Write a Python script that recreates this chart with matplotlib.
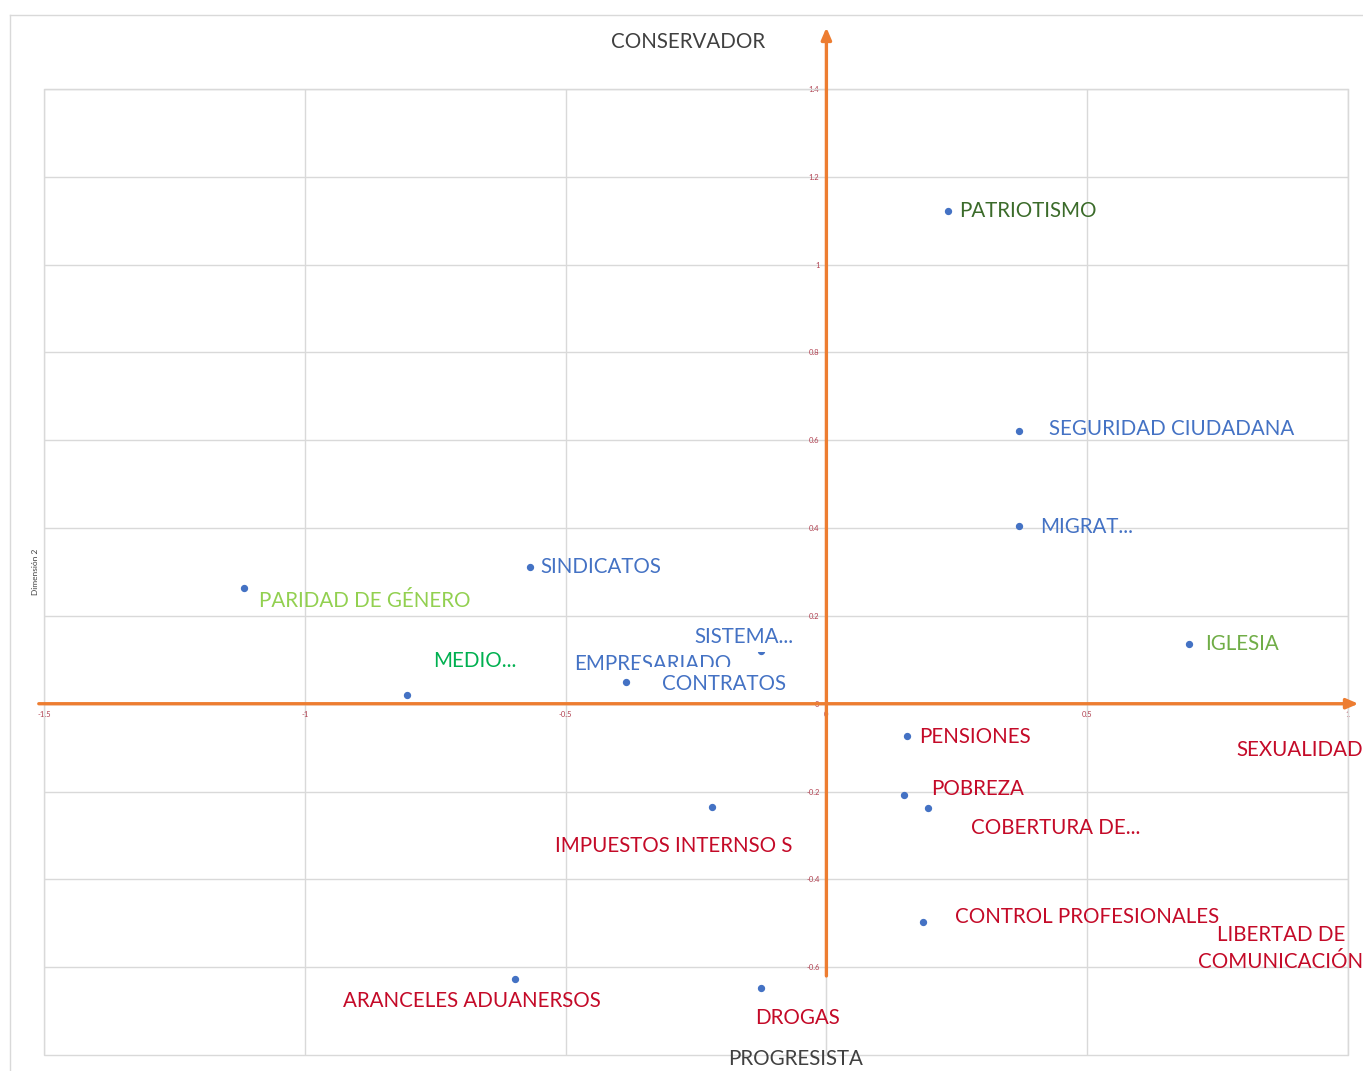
import numpy as np
import matplotlib.pyplot as plt
from matplotlib.lines import Line2D
from matplotlib.patches import Rectangle

plt.rcParams['font.family'] = ['Lato', 'DejaVu Sans']

# points of the map (nan = no visible dot)
names = ['PATRIOTISMO', 'SEGURIDAD CIUDADANA', 'MIGRAT...', 'IGLESIA', 'SINDICATOS',
         'PARIDAD DE GÉNERO', 'MEDIO...', 'SISTEMA...', 'EMPRESARIADO', 'CONTRATOS',
         'PENSIONES', 'SEXUALIDAD', 'POBREZA', 'COBERTURA DE...', 'IMPUESTOS INTERNSO S',
         'CONTROL PROFESIONALES', 'LIBERTAD DE\nCOMUNICACIÓN', 'ARANCELES ADUANERSOS', 'DROGAS']
dim1 = [0.234, 0.369, 0.369, 0.695, -0.568,
        -1.117, -0.804, -0.125, -0.384, np.nan,
        0.155, np.nan, 0.148, 0.194, -0.219,
        0.186, np.nan, -0.597, -0.125]
dim2 = [1.123, 0.621, 0.404, 0.137, 0.311,
        0.263, 0.021, 0.119, 0.050, np.nan,
        -0.073, np.nan, -0.208, -0.237, -0.235,
        -0.498, np.nan, -0.628, -0.648]

xticks = [-1.5, -1, -0.5, 0, 0.5, 1]
xticklabels = ['-1.5', '-1', '-0.5', '0', '0.5', '1']
yticks = [-0.6, -0.4, -0.2, 0, 0.2, 0.4, 0.6, 0.8, 1, 1.2, 1.4]
yticklabels = ['-0.6', '-0.4', '-0.2', '0', '0.2', '0.4', '0.6', '0.8', '1', '1.2', '1.4']

# label layout
red = '#c40a28'
blue = '#4472c4'
colors = ['#3b6b2a', blue, blue, '#70ad47', blue,
          '#92d050', '#00b050', blue, blue, blue,
          red, red, red, red, red,
          red, red, red, red]
label_pos = [(0.255, 1.123), (0.426, 0.626), (0.409, 0.402), (0.726, 0.137), (-0.549, 0.311),
             (-1.088, 0.235), (-0.754, 0.098), (-0.253, 0.153), (-0.484, 0.090), (-0.315, 0.046),
             (0.177, -0.075), (1.029, -0.105), (0.200, -0.194), (0.278, -0.283), (-0.520, -0.324),
             (0.246, -0.486), (0.871, -0.557), (-0.927, -0.678), (-0.136, -0.715)]
label_ha = ['left'] * 19
label_ha[11] = 'right'
label_ha[16] = 'center'

W, H = 1363, 1071
fig = plt.figure(figsize=(W / 100, H / 100), dpi=100)
ax = fig.add_axes([44 / W, 1 - 1055 / H, (1348 - 44) / W, (1055 - 89) / H])

ax.set_xlim(-1.5, 1)
ax.set_ylim(-0.8, 1.4)
ax.set_xticks(xticks)
ax.set_xticklabels(xticklabels)
ax.set_yticks(yticks)
ax.set_yticklabels(yticklabels)
ax.grid(True, color='#d9d9d9', lw=1)
ax.set_axisbelow(True)
ax.tick_params(length=0, labelsize=5.5, labelcolor='#b04050', pad=5)

ax.spines['left'].set_position(('data', 0))
ax.spines['bottom'].set_position(('data', 0))
for s in ax.spines.values():
    s.set_color('#d9d9d9')
ax.add_patch(Rectangle((0, 0), 1, 1, transform=ax.transAxes, fill=False,
                       ec='#d9d9d9', lw=1, clip_on=False))

# orange arrows
arrow = dict(arrowstyle='-|>,head_length=0.7,head_width=0.3', color='#ed7d31', lw=2.4,
             shrinkA=0, shrinkB=0)
ax.annotate('', xy=(0, 1.54), xytext=(0, -0.62), arrowprops=arrow, annotation_clip=False)
ax.annotate('', xy=(1.02, 0), xytext=(-1.51, 0), arrowprops=arrow, annotation_clip=False)

ax.scatter(dim1, dim2, s=18, color=blue, zorder=5)

# white label box of CONTRATOS hides the lower part of EMPRESARIADO
ax.add_patch(Rectangle((-0.36, 0.012), 0.27, 0.072, fc='white', ec='none', zorder=4.5))

for name, (lx, ly), c, ha in zip(names, label_pos, colors, label_ha):
    bbox = None
    z = 4
    if name == 'SISTEMA...':
        bbox = dict(fc='white', ec='none', pad=4)
        z = 6
    if name == 'CONTRATOS':
        z = 6
    ax.text(lx, ly, name, color=c, fontsize=14.8, ha=ha, va='center', zorder=z,
            bbox=bbox, clip_on=False, linespacing=1.45)

ax.text(-0.265, 1.506, 'CONSERVADOR', color='#404040', fontsize=14.8, ha='center', va='center',
        clip_on=False)
ax.text(-0.060, -0.808, 'PROGRESISTA', color='#404040', fontsize=14.8, ha='center', va='center',
        clip_on=False)
fig.text(36 / W, 1 - 572 / H, 'Dimensión 2', rotation=90, fontsize=6, color='#404040',
         ha='center', va='center')

# outer chart border
fig.add_artist(Line2D([10 / W, 10 / W], [0, 1 - 15 / H], color='#d9d9d9', lw=1))
fig.add_artist(Line2D([10 / W, 1], [1 - 15 / H, 1 - 15 / H], color='#d9d9d9', lw=1))

fig.savefig('out.png', dpi=100)
